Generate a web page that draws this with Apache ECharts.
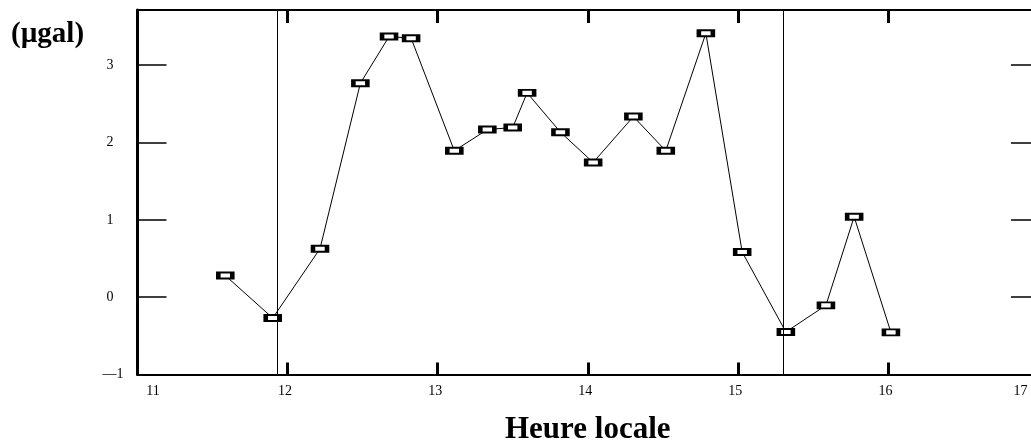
<!DOCTYPE html>
<html>
<head>
<meta charset="utf-8">
<script src="https://cdn.jsdelivr.net/npm/echarts@6/dist/echarts.min.js"></script>
<style>html,body{margin:0;padding:0;background:#fff;}#c{width:1031px;height:447px;}</style>
</head>
<body>
<div id="c"></div>
<script>
const hours = [11.585, 11.901, 12.216, 12.485, 12.676, 12.823, 13.111, 13.331, 13.500, 13.596, 13.818, 14.036, 14.304, 14.520, 14.787, 15.029, 15.320, 15.587, 15.775, 16.020];
const gravity = [0.28, -0.27, 0.627, 2.767, 3.37, 3.35, 1.893, 2.168, 2.194, 2.642, 2.134, 1.742, 2.336, 1.893, 3.413, 0.584, -0.45, -0.106, 1.04, -0.455];
const markerLines = [11.925, 15.30];
const xTicks = [11, 12, 13, 14, 15, 16, 17];
const yTicks = [-1, 0, 1, 2, 3];
const yUnit = '(µgal)';
const xName = 'Heure locale';

const FONT = 'Liberation Serif';
const chart = echarts.init(document.getElementById('c'), null, {renderer: 'canvas'});

function xLabel(v) {
  if (xTicks.indexOf(v) < 0) return '';
  if (v === 11) return '{a|' + v + '}';
  if (v === 17) return '{b|' + v + '}';
  return '{m|' + v + '}';
}
function yLabel(v) {
  if (yTicks.indexOf(v) < 0) return '';
  if (v === -1) return '{n|—1}';
  return '{p|' + v + '}';
}
const lblStyle = {fontFamily: FONT, fontSize: 14, color: '#000'};

chart.setOption({
  animation: false,
  backgroundColor: '#fff',
  title: {
    text: yUnit, left: 6, top: 15,
    textStyle: {fontFamily: FONT, fontSize: 29, fontWeight: 'bold', color: '#000'}
  },
  grid: {left: 137.5, right: -7, top: 10, bottom: 72.5, outerBoundsMode: 'none', containLabel: false},
  xAxis: [{
    type: 'value', position: 'bottom', min: 11, max: 17, interval: 1,
    name: xName, nameLocation: 'middle', nameGap: 40,
    nameTextStyle: {fontFamily: FONT, fontSize: 31, fontWeight: 'bold', color: '#000'},
    axisLine: {onZero: false, lineStyle: {color: '#000', width: 2}},
    axisTick: {inside: true, length: 12, lineStyle: {color: '#000', width: 3}},
    splitLine: {show: false},
    axisLabel: {
      margin: 10, formatter: xLabel,
      rich: {
        a: Object.assign({padding: [0, 0, 0, 31]}, lblStyle),
        b: Object.assign({padding: [0, 35, 0, 0]}, lblStyle),
        m: Object.assign({padding: [0, 5, 0, 0]}, lblStyle)
      }
    }
  }, {
    type: 'value', position: 'top', min: 11, max: 17, interval: 1,
    axisLine: {onZero: false, lineStyle: {color: '#000', width: 2}},
    axisTick: {inside: true, length: 13, lineStyle: {color: '#000', width: 3}},
    splitLine: {show: false},
    axisLabel: {show: false}
  }],
  yAxis: [{
    type: 'value', position: 'left', min: -1, max: 3.714, interval: 1,
    axisLine: {onZero: false, lineStyle: {color: '#000', width: 3}},
    axisTick: {inside: true, length: 29, lineStyle: {color: '#000', width: 1.5}},
    splitLine: {show: false},
    axisLabel: {
      margin: 14, align: 'right', formatter: yLabel,
      rich: {
        n: Object.assign({}, lblStyle),
        p: Object.assign({padding: [0, 10, 0, 0]}, lblStyle)
      }
    }
  }, {
    type: 'value', position: 'right', min: -1, max: 3.714, interval: 1,
    axisLine: {onZero: false, lineStyle: {color: '#000', width: 2}},
    axisTick: {inside: true, length: 27, lineStyle: {color: '#000', width: 1.5}},
    splitLine: {show: false},
    axisLabel: {show: false}
  }],
  series: [{
    type: 'line',
    data: hours.map((h, i) => [h, gravity[i]]),
    xAxisIndex: 0, yAxisIndex: 0,
    symbol: 'rect', symbolSize: [14, 6],
    showAllSymbol: true,
    lineStyle: {color: '#000', width: 1},
    itemStyle: {color: '#fff', borderColor: '#000', borderWidth: 3},
    markLine: {
      silent: true, symbol: ['none', 'none'],
      label: {show: false},
      lineStyle: {color: '#000', width: 1, type: 'solid'},
      data: markerLines.map(v => ({xAxis: v}))
    },
    z: 3
  }]
});
</script>
</body>
</html>
